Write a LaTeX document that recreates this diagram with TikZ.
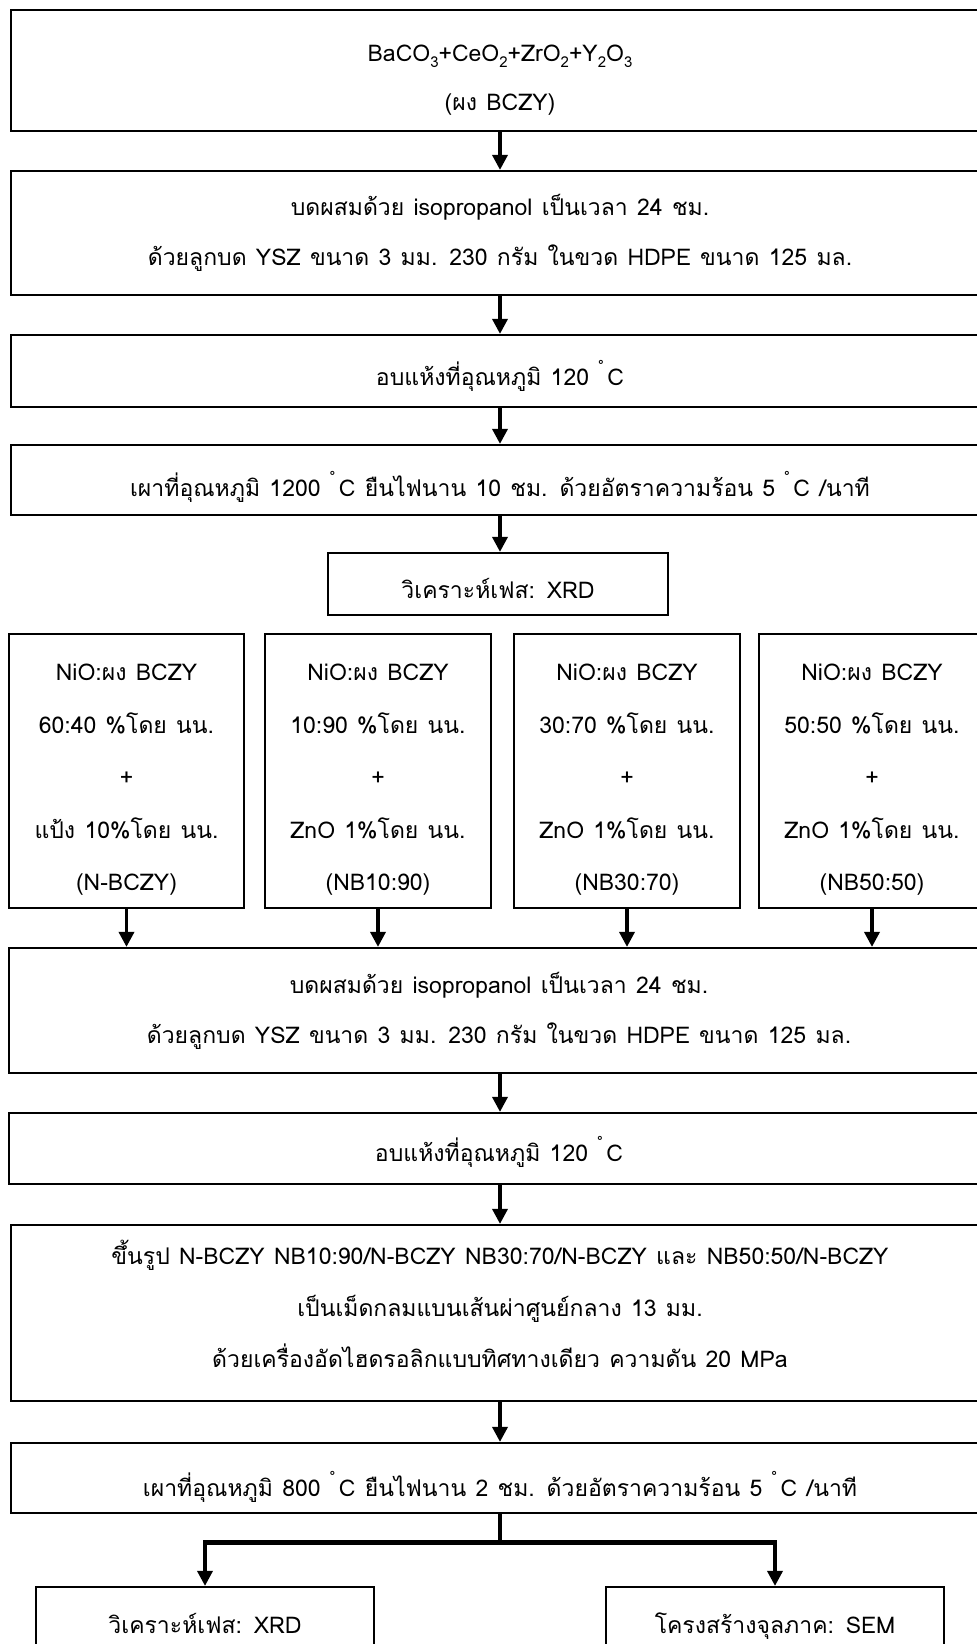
\documentclass[tikz,border=0pt]{standalone}
\usepackage{fontspec}
\setmainfont[Script=Thai,WordSpace=1.2]{Loma}
\usetikzlibrary{arrows.meta}

% raised degree ring followed by C
\newcommand\dgC{\raisebox{0.72em}{\fontsize{11}{11}\selectfont °}\,C}
% lowered chemical index
\newcommand\chemsub[1]{\raisebox{-0.3em}{\fontsize{15}{15}\selectfont #1}}
% box given by its left, top, right and bottom edges;
% #7 and #8 are the strut height of the first line and depth of the last line
\newcommand\flowbox[9][]{%
  \node[box,#1,minimum width={#5-#3},minimum height={#6-#4}]
    (#2) at ({(#3+#5)/2},{(#4+#6)/2})
    {\rule{0pt}{#7pt}#9\rule[-#8pt]{0pt}{#8pt}};}

\begin{document}
\begin{tikzpicture}[x=1pt,y=-1pt,
  box/.style={draw,line width=2.2pt,inner sep=0pt,align=center,
    font=\fontsize{23}{50}\selectfont},
  flow/.style={line width=3.5pt,-{Triangle[width=15pt,length=15pt]}},
  trunk/.style={line width=3.5pt},
  bar/.style={line width=5pt},
]
\clip (0,0) rectangle (977,1644);
\fill[white] (0,0) rectangle (977,1644);

% preparation of the BCZY powder
\flowbox[font=\fontsize{23}{49}\selectfont]{raw}{11}{10}{989}{131}{42}{12}{BaCO\chemsub{3}+CeO\chemsub{2}+ZrO\chemsub{2}+Y\chemsub{2}O\chemsub{3}\\(ผง BCZY)}
\flowbox{mill}{11}{171}{989}{295}{27}{12}{บดผสมด้วย isopropanol เป็นเวลา 24 ชม.\\ด้วยลูกบด YSZ ขนาด 3 มม. 230 กรัม ในขวด HDPE ขนาด 125 มล.}
\flowbox{dry}{11}{335}{989}{407}{40}{12}{อบแห้งที่อุณหภูมิ 120 \dgC}
\flowbox{calc}{11}{445}{989}{515}{45}{12}{เผาที่อุณหภูมิ 1200 \dgC\ ยืนไฟนาน 10 ชม. ด้วยอัตราความร้อน 5 \dgC\ /นาที}
\flowbox{xrdA}{328}{553}{668}{615}{40}{12}{วิเคราะห์เฟส: XRD}

% the four anode mixtures
\tikzset{mix/.style={font=\fontsize{23}{52.5}\selectfont}}
\flowbox[mix]{mixA}{9}{634}{244}{908}{41}{12}{NiO:ผง BCZY\\60:40 \%โดย นน.\\+\\แป้ง 10\%โดย นน.\\(N-BCZY)}
\flowbox[mix]{mixB}{265}{634}{491}{908}{41}{12}{NiO:ผง BCZY\\10:90 \%โดย นน.\\+\\ZnO 1\%โดย นน.\\(NB10:90)}
\flowbox[mix]{mixC}{514}{634}{740}{908}{41}{12}{NiO:ผง BCZY\\30:70 \%โดย นน.\\+\\ZnO 1\%โดย นน.\\(NB30:70)}
\flowbox[mix]{mixD}{759}{634}{985}{908}{41}{12}{NiO:ผง BCZY\\50:50 \%โดย นน.\\+\\ZnO 1\%โดย นน.\\(NB50:50)}

% processing of the mixtures
\flowbox{mill2}{9}{948}{989}{1073}{27}{12}{บดผสมด้วย isopropanol เป็นเวลา 24 ชม.\\ด้วยลูกบด YSZ ขนาด 3 มม. 230 กรัม ในขวด HDPE ขนาด 125 มล.}
\flowbox{dry2}{9}{1113}{989}{1184}{38}{12}{อบแห้งที่อุณหภูมิ 120 \dgC}
\flowbox[font=\fontsize{23}{51.5}\selectfont]{press}{11}{1225}{989}{1401}{26}{19.5}{ขึ้นรูป N-BCZY NB10:90/N-BCZY NB30:70/N-BCZY และ NB50:50/N-BCZY\\เป็นเม็ดกลมแบนเส้นผ่าศูนย์กลาง 13 มม.\\ด้วยเครื่องอัดไฮดรอลิกแบบทิศทางเดียว ความดัน 20 MPa}
\flowbox{sint}{11}{1443}{989}{1513}{48}{12}{เผาที่อุณหภูมิ 800 \dgC\ ยืนไฟนาน 2 ชม. ด้วยอัตราความร้อน 5 \dgC\ /นาที}

% characterisation
\flowbox{xrdB}{36}{1587}{374}{1662}{30}{12}{วิเคราะห์เฟส: XRD}
\flowbox{sem}{606}{1587}{944}{1662}{30}{12}{โครงสร้างจุลภาค: SEM}

% connectors
\coordinate (fork) at (500,1542);
\coordinate (forkL) at (xrdB.north |- fork);
\coordinate (forkR) at (sem.north |- fork);
\draw[flow] (raw.south -| 500,0) -- (mill.north -| 500,0);
\draw[flow] (mill.south -| 500,0) -- (dry.north -| 500,0);
\draw[flow] (dry.south -| 500,0) -- (calc.north -| 500,0);
\draw[flow] (calc.south -| 500,0) -- (xrdA.north -| 500,0);
\foreach \m in {mixA,mixB,mixC,mixD}
  \draw[flow] (\m.south) -- (\m.south |- mill2.north);
\draw[flow] (mill2.south -| 500,0) -- (dry2.north -| 500,0);
\draw[flow] (dry2.south -| 500,0) -- (press.north -| 500,0);
\draw[flow] (press.south -| 500,0) -- (sint.north -| 500,0);
\draw[trunk] (sint.south -| fork) -- (fork);
\draw[bar] ([xshift=-1.75pt]forkL) -- ([xshift=1.75pt]forkR);
\draw[flow] (forkL) -- (xrdB.north);
\draw[flow] (forkR) -- (sem.north);
\end{tikzpicture}
\end{document}
